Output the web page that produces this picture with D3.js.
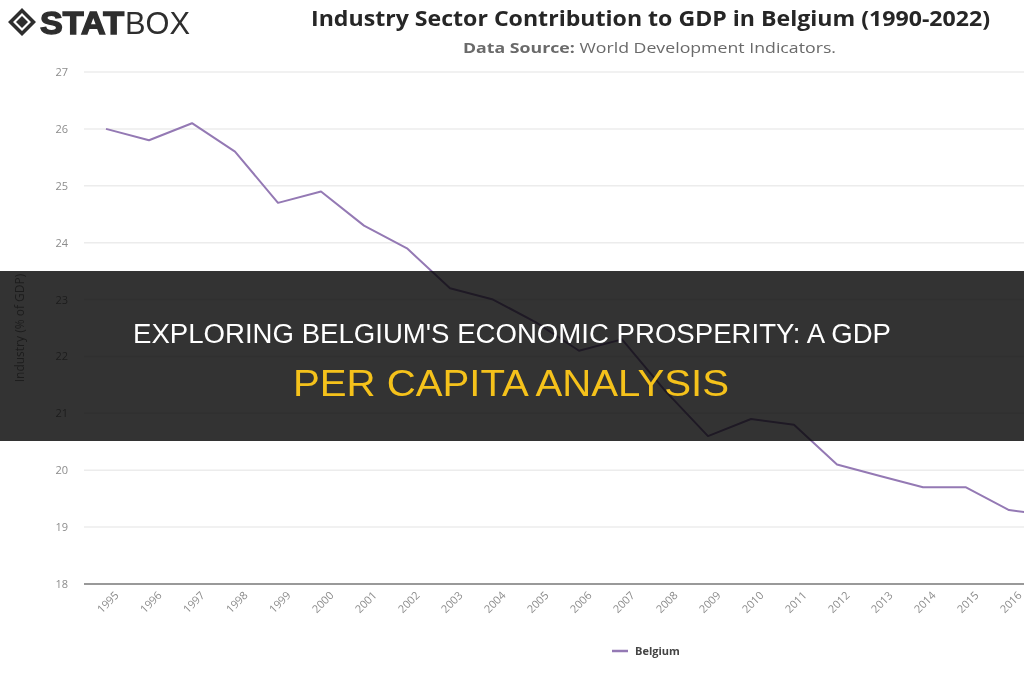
<!DOCTYPE html>
<html>
<head>
<meta charset="utf-8">
<script src="https://cdn.jsdelivr.net/npm/d3@7"></script>
<style>
  html, body { margin: 0; padding: 0; background: #fff; overflow: hidden; }
  svg { display: block; }
  .band { mix-blend-mode: multiply; }
</style>
</head>
<body>
<div id="chart"></div>
<script>
// == DATA ==
const years = [1995, 1996, 1997, 1998, 1999, 2000, 2001, 2002, 2003, 2004, 2005,
  2006, 2007, 2008, 2009, 2010, 2011, 2012, 2013, 2014, 2015, 2016, 2017];
const belgium = [26.0, 25.8, 26.1, 25.6, 24.7, 24.9, 24.3, 23.9, 23.2, 23.0, 22.6,
  22.1, 22.3, 21.4, 20.6, 20.9, 20.8, 20.1, 19.9, 19.7, 19.7, 19.3, 19.2];
const yTicks = [18, 19, 20, 21, 22, 23, 24, 25, 26, 27];
const seriesName = 'Belgium';

// == CONFIG ==
const W = 1024, H = 680;
const COLOR_LINE = '#9479b4';
const COLOR_GRID = '#ececec';
const COLOR_TICK = '#8c8c8c';

const svg = d3.select('#chart').append('svg')
  .attr('width', W)
  .attr('height', H);

const x = d3.scaleLinear().domain([1995, 2017]).range([106, 106 + 22 * 43]);
const y = d3.scaleLinear().domain([18, 27]).range([584, 72]);

// == HEADER ==
const logo = svg.append('g').attr('transform', 'translate(8,8)');
logo.append('path')
  .attr('d', 'M14,0 L28,14 L14,28 L0,14 Z M14,5 L5,14 L14,23 L23,14 Z')
  .attr('fill', '#2e2e2e')
  .attr('fill-rule', 'evenodd');
logo.append('path')
  .attr('d', 'M14,8 L20,14 L14,20 L8,14 Z')
  .attr('fill', '#2e2e2e');
// heavy "STAT" + thin "BOX"
logo.append('text')
  .attr('x', 32).attr('y', 26)
  .attr('font-family', 'Liberation Sans, Arial, sans-serif')
  .attr('font-weight', 'bold')
  .attr('font-size', 31)
  .attr('fill', '#2e2e2e')
  .attr('stroke', '#2e2e2e')
  .attr('stroke-width', 1.4)
  .attr('textLength', 84)
  .attr('lengthAdjust', 'spacingAndGlyphs')
  .text('STAT');
logo.append('text')
  .attr('x', 117).attr('y', 26)
  .attr('font-family', 'Liberation Sans, Arial, sans-serif')
  .attr('font-size', 31)
  .attr('fill', '#2e2e2e')
  .attr('textLength', 65)
  .attr('lengthAdjust', 'spacingAndGlyphs')
  .text('BOX');

svg.append('text')
  .attr('x', 311).attr('y', 26)
  .attr('font-family', 'Open Sans, DejaVu Sans, sans-serif')
  .attr('font-weight', 'bold')
  .attr('font-size', 21)
  .attr('fill', '#262626')
  .attr('textLength', 679)
  .attr('lengthAdjust', 'spacingAndGlyphs')
  .text('Industry Sector Contribution to GDP in Belgium (1990-2022)');

const sub = svg.append('text')
  .attr('x', 463).attr('y', 53)
  .attr('font-family', 'Open Sans, DejaVu Sans, sans-serif')
  .attr('font-size', 15)
  .attr('fill', '#6a6a6a')
  .attr('textLength', 373)
  .attr('lengthAdjust', 'spacingAndGlyphs');
sub.append('tspan').attr('font-weight', 'bold').text('Data Source: ');
sub.append('tspan').text('World Development Indicators.');

// == GRID + AXES ==
svg.append('g')
  .selectAll('line')
  .data(yTicks.filter(d => d !== 18))
  .join('line')
  .attr('x1', 84).attr('x2', W)
  .attr('y1', d => y(d)).attr('y2', d => y(d))
  .attr('stroke', COLOR_GRID)
  .attr('stroke-width', 1.5);

const yAxis = svg.append('g')
  .attr('transform', 'translate(68,0)')
  .call(d3.axisLeft(y).tickValues(yTicks).tickSize(0).tickPadding(0));
yAxis.select('.domain').remove();
yAxis.selectAll('text')
  .attr('font-family', 'Open Sans, DejaVu Sans, sans-serif')
  .attr('font-size', 11)
  .attr('fill', COLOR_TICK);

svg.append('text')
  .attr('transform', `translate(24,${(y(18) + y(27)) / 2}) rotate(-90)`)
  .attr('text-anchor', 'middle')
  .attr('font-family', 'Open Sans, DejaVu Sans, sans-serif')
  .attr('font-size', 12)
  .attr('fill', COLOR_TICK)
  .text('Industry (% of GDP)');

const xAxis = svg.append('g')
  .attr('transform', `translate(0,${y(18)})`)
  .call(d3.axisBottom(x).tickValues(years).tickFormat(d3.format('d')).tickSize(0));
xAxis.select('.domain')
  .attr('d', `M84,0H${W}`)
  .attr('stroke', '#999')
  .attr('stroke-width', 2);
xAxis.selectAll('text')
  .attr('font-family', 'Open Sans, DejaVu Sans, sans-serif')
  .attr('font-size', 11)
  .attr('fill', COLOR_TICK)
  .attr('text-anchor', 'end')
  .attr('dy', null)
  .attr('y', 0)
  .attr('transform', 'translate(13,12) rotate(-45)');

// == LINE ==
const line = d3.line()
  .x((d, i) => x(years[i]))
  .y(d => y(d));

svg.append('path')
  .datum(belgium)
  .attr('d', line)
  .attr('fill', 'none')
  .attr('stroke', COLOR_LINE)
  .attr('stroke-width', 2)
  .attr('stroke-linejoin', 'round');

// == LEGEND ==
const legend = svg.append('g').attr('transform', 'translate(612,651)');
legend.append('line')
  .attr('x1', 0).attr('x2', 16)
  .attr('stroke', COLOR_LINE)
  .attr('stroke-width', 2.5);
legend.append('text')
  .attr('x', 23).attr('y', 4)
  .attr('font-family', 'Open Sans, DejaVu Sans, sans-serif')
  .attr('font-weight', 'bold')
  .attr('font-size', 11)
  .attr('fill', '#444')
  .text(seriesName);

// == OVERLAY BAND ==
svg.append('rect')
  .attr('class', 'band')
  .attr('x', 0).attr('y', 271)
  .attr('width', W).attr('height', 170)
  .attr('fill', '#333333');

svg.append('text')
  .attr('x', 133).attr('y', 343)
  .attr('font-family', 'Liberation Sans, Arial, sans-serif')
  .attr('font-size', 27)
  .attr('fill', '#ffffff')
  .attr('textLength', 758)
  .attr('lengthAdjust', 'spacingAndGlyphs')
  .text("EXPLORING BELGIUM'S ECONOMIC PROSPERITY: A GDP");

svg.append('text')
  .attr('x', 293).attr('y', 396)
  .attr('font-family', 'Liberation Sans, Arial, sans-serif')
  .attr('font-size', 37)
  .attr('fill', '#f5c21b')
  .attr('textLength', 436)
  .attr('lengthAdjust', 'spacingAndGlyphs')
  .text('PER CAPITA ANALYSIS');
</script>
</body>
</html>
